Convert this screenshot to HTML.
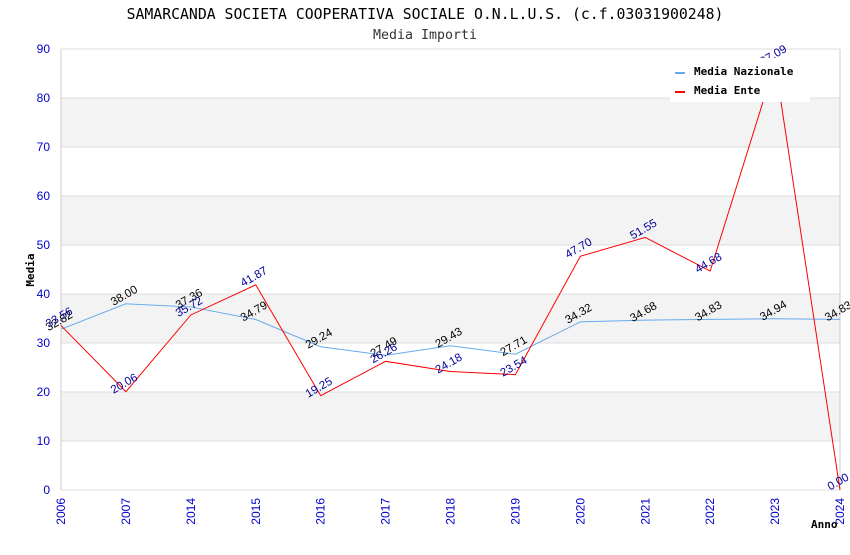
<!DOCTYPE html>
<html><head><meta charset="utf-8"><style>
body{margin:0;background:#fff}
svg text{font-family:"DejaVu Sans Mono","Liberation Mono",monospace}
svg text.s{font-family:"Liberation Sans",Arial,sans-serif}
</style></head><body>
<svg width="850" height="550">
<g id="g"></g>
</svg>
<script>
const categories=["2006","2007","2014","2015","2016","2017","2018","2019","2020","2021","2022","2023","2024"];
const nazionale=[32.82,38.00,37.36,34.79,29.24,27.49,29.43,27.71,34.32,34.68,34.83,34.94,34.83];
const ente=[33.56,20.06,35.72,41.87,19.25,26.26,24.18,23.54,47.70,51.55,44.68,87.09,0.00];
const yTicks=[0,10,20,30,40,50,60,70,80,90];
const X0=61,X1=840,Y0=490,Y1=49;
const x=i=>X0+i*(X1-X0)/(categories.length-1);
const y=v=>Y0-(v/90)*(Y0-Y1);
const g=document.getElementById('g');
const NS='http://www.w3.org/2000/svg';
function mk(t,a,txt){const e=document.createElementNS(NS,t);for(const k in a)e.setAttribute(k,a[k]);if(txt!==undefined)e.textContent=txt;g.appendChild(e);return e;}
for(let i=1;i<yTicks.length-1;i+=2){
 const b=mk('rect',{x:X0,y:y(yTicks[i+1]),width:X1-X0,height:y(yTicks[i])-y(yTicks[i+1]),fill:'#f3f3f3'});
 
 
}
yTicks.forEach(v=>{
 const l=mk('line',{x1:X0,x2:X1,y1:y(v),y2:y(v),stroke:'#dedede'});
 
 
 const t=mk('text',{class:'s',x:50,y:y(v)+4,'text-anchor':'end','font-size':12,fill:'#0000cc'},String(v));
 
 
});
mk('line',{x1:X0,x2:X0,y1:Y1,y2:Y0,stroke:'#ccc'});
mk('line',{x1:X1,x2:X1,y1:Y1,y2:Y0,stroke:'#ccc'});
categories.forEach((c,i)=>{
 const t=mk('text',{class:'s',x:0,y:0,'text-anchor':'end','font-size':12,fill:'#0000cc',transform:`translate(${x(i)+4},${Y0+8}) rotate(-90)`},c);
 
 
});
function series(vals,color,lc,name){
 const p=mk('polyline',{points:vals.map((v,i)=>x(i)+','+y(v)).join(' '),fill:'none',stroke:color,'stroke-width':1});
 
 
 vals.forEach((v,i)=>{
  const t=mk('text',{class:'s',x:0,y:0,'text-anchor':'middle','font-size':11.5,fill:lc,transform:`translate(${x(i)},${y(v)-5}) rotate(-30)`},v.toFixed(2));
  
  
 });
}
series(nazionale,'#66aaee','#000','nazionale');
series(ente,'#ff0000','#000099','ente');
const lg=mk('rect',{x:670,y:58,width:140,height:44,fill:'#fff'});


mk('rect',{x:675,y:72,width:10,height:2,fill:'#66aaee'});
mk('rect',{x:675,y:91,width:10,height:2,fill:'#ff0000'});
let t1=mk('text',{x:694,y:75,'font-size':11,'font-weight':'bold',fill:'#000'},'Media Nazionale');


let t2=mk('text',{x:694,y:94,'font-size':11,'font-weight':'bold',fill:'#000'},'Media Ente');


let tt=mk('text',{x:425,y:19,'text-anchor':'middle','font-size':14.8,fill:'#000'},'SAMARCANDA SOCIETA COOPERATIVA SOCIALE O.N.L.U.S. (c.f.03031900248)');


let st=mk('text',{x:425,y:39,'text-anchor':'middle','font-size':13.3,fill:'#333'},'Media Importi');


let yt=mk('text',{x:0,y:0,'text-anchor':'middle','font-size':11,'font-weight':'bold',fill:'#000',transform:'translate(34,270) rotate(-90)'},'Media');


let xt=mk('text',{x:811,y:528,'font-size':11,'font-weight':'bold',fill:'#000'},'Anno');


</script>
</body></html>
